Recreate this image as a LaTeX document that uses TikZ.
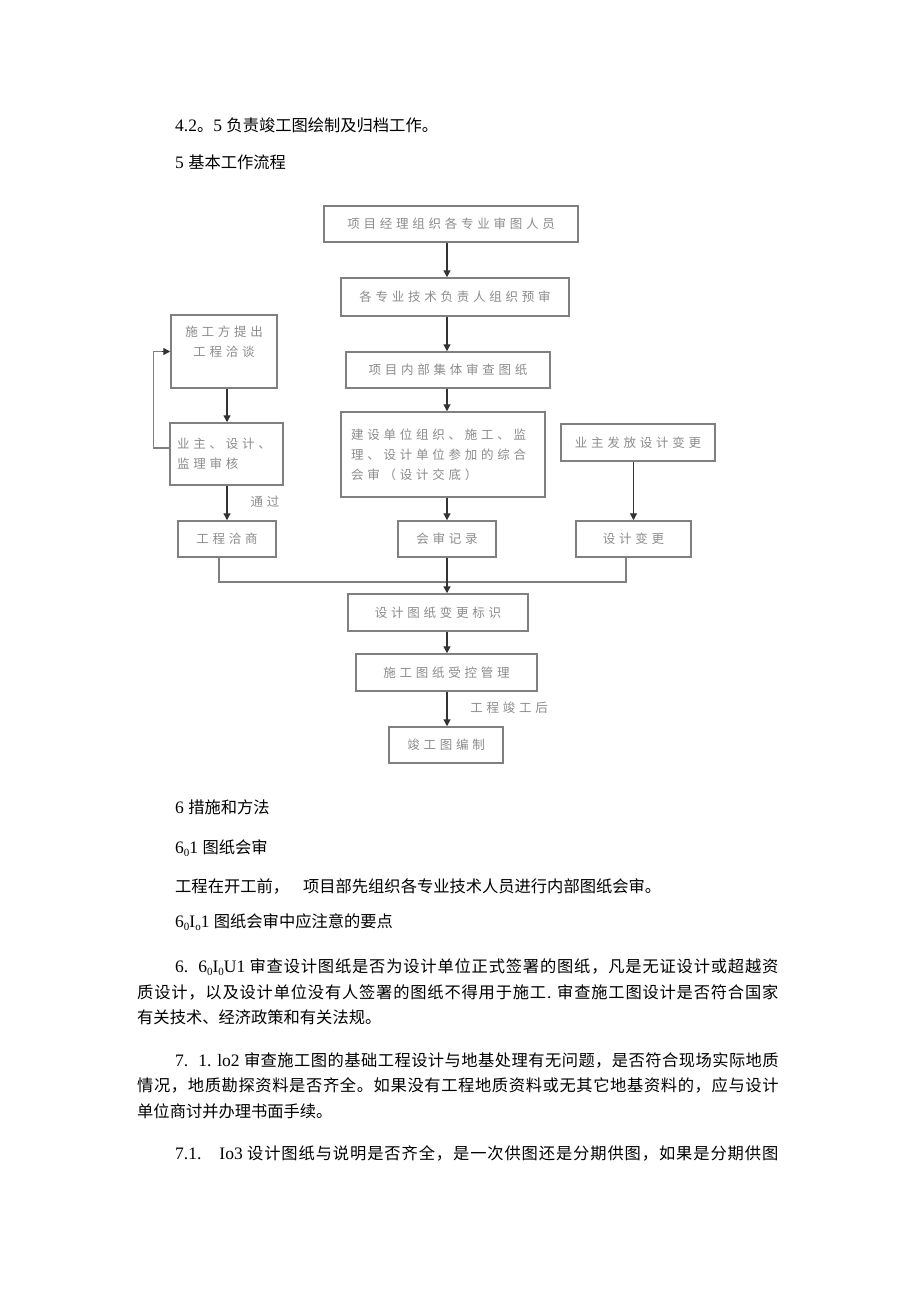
\documentclass[tikz,border=0pt]{standalone}
\usepackage{fontspec}
\setmainfont{Liberation Serif}
\newfontfamily\cjk[Scale=0.93]{Noto Sans CJK SC}
\newfontfamily\flowfont[LetterSpace=30]{Noto Sans CJK SC}
\usetikzlibrary{arrows.meta,calc}
\def\zhsEnd{\zhsEnd}
\def\zhs#1{\zhsA#1\zhsEnd}
\def\zhsA#1{\ifx#1\zhsEnd\else#1\hskip0pt plus 1fil\relax\expandafter\zhsA\fi}
\newcommand\zh[1]{{\cjk #1}}
\newcommand\zj[1]{{\cjk\zhs{#1}}}
\newcommand\sbs[1]{\raisebox{-0.3ex}{\fontsize{11}{11}\selectfont #1}}
\newcommand\jl[2]{\hbox to #1{#2}}
\begin{document}
\begin{tikzpicture}[x=1pt,y=-1pt,
  doc/.style={anchor=west,inner sep=0pt,font=\fontsize{17.5}{21}\selectfont},
  box/.style={draw=black!50,line width=1.5pt,inner sep=0pt,align=center,
    font=\flowfont\fontsize{12.5}{20}\selectfont,text=black!45},
  arr/.style={draw=black!80,line width=1.3pt,-{Triangle[length=7pt,width=7pt]}},
  gline/.style={draw=black!50,line width=1.3pt},
  lbl/.style={inner sep=0pt,font=\flowfont\fontsize{12.5}{20}\selectfont,text=black!45}]
\fill[white] (0,0) rectangle (920,1301);
\useasboundingbox (0,0) rectangle (920,1301);

% document text
\node[doc] (t1) at (175,125) {4.2\zh{。}5 \zh{负责竣工图绘制及归档工作。}};
\node[doc] (t2) at (175,162) {5 \zh{基本工作流程}};
\node[doc] (t3) at (175,807) {6 \zh{措施和方法}};
\node[doc] (t4) at (175,848) {6\sbs{0}1 \zh{图纸会审}};
\node[doc] (t5) at (175,886) {\zh{工程在开工前，}\hspace{14pt}\zh{项目部先组织各专业技术人员进行内部图纸会审。}};
\node[doc] (t6) at (175,922) {6\sbs{0}I\sbs{o}1 \zh{图纸会审中应注意的要点}};

\node[doc] (p1a) at (175,967) {\jl{604pt}{6.\hspace{10pt}6\sbs{0}I\sbs{0}U1 \zj{审查设计图纸是否为设计单位正式签署的图纸，凡是无证设计或超越资}}};
\node[doc] (p1b) at (137,992) {\jl{642pt}{\zj{质设计，以及设计单位没有人签署的图纸不得用于施工}. \zj{审查施工图设计是否符合国家}}};
\node[doc] (p1c) at (137,1017) {\zh{有关技术、经济政策和有关法规。}};

\node[doc] (p2a) at (175,1060) {\jl{604pt}{7.\hspace{10pt}1. lo2 \zj{审查施工图的基础工程设计与地基处理有无问题，是否符合现场实际地质}}};
\node[doc] (p2b) at (137,1085) {\jl{642pt}{\zj{情况，地质勘探资料是否齐全。如果没有工程地质资料或无其它地基资料的，应与设计}}};
\node[doc] (p2c) at (137,1111) {\zh{单位商讨并办理书面手续。}};

\node[doc] (p3a) at (175,1153) {\jl{604pt}{7.1.\hspace{18pt}Io3 \zj{设计图纸与说明是否齐全，是一次供图还是分期供图，如果是分期供图}}};

% flowchart boxes
\node[box,minimum width=254,minimum height=36] (b1) at (451,224) {项目经理组织各专业审图人员};
\node[box,minimum width=228,minimum height=38] (b2) at (455,297) {各专业技术负责人组织预审};
\node[box,minimum width=204,minimum height=36] (b3) at (448,370) {项目内部集体审查图纸};
\node[box,minimum width=106,minimum height=73] (bA) at (224,351.5) {施工方提出\\工程洽谈\\\mbox{}};
\node[box,minimum width=113,minimum height=62,text width=99,align=left] (bB) at (226.5,454) {业主、设计、\\监理审核};
\node[box,minimum width=98,minimum height=36] (bC) at (227,539) {工程洽商};
\node[box,minimum width=204,minimum height=85,text width=184,align=left] (bD) at (443,454.5) {建设单位组织、施工、监\\理、设计单位参加的综合\\会审（设计交底）};
\node[box,minimum width=154,minimum height=37] (bE) at (638,442.5) {业主发放设计变更};
\node[box,minimum width=115,minimum height=36] (bF) at (633.5,539) {设计变更};
\node[box,minimum width=98,minimum height=36] (bG) at (447,539) {会审记录};
\node[box,minimum width=180,minimum height=37] (bH) at (438,612.5) {设计图纸变更标识};
\node[box,minimum width=181,minimum height=37] (bI) at (446.5,672.5) {施工图纸受控管理};
\node[box,minimum width=114,minimum height=36] (bJ) at (446,745) {竣工图编制};

\node[lbl] (l1) at (265,502) {通过};
\node[lbl] (l2) at (509,708) {工程竣工后};
\coordinate (mrg) at (447,582);

% connectors
\draw[arr] (b1.south -| bG) -- (b2.north -| bG);
\draw[arr] (b2.south -| bG) -- (b3.north -| bG);
\draw[arr] (b3.south -| bG) -- (bD.north -| bG);
\draw[arr] (bD.south -| bG) -- (bG.north);
\draw[arr] (bA.south -| bC) -- (bB.north -| bC);
\draw[arr] (bB.south -| bC) -- (bC.north);
\draw[arr] (bE.south -| bF) -- (bF.north);
\draw[gline] ([xshift=-8pt]bC.south) |- (mrg);
\draw[gline] ([xshift=-7.5pt]bF.south) |- (mrg);
\draw[arr] (bG.south) -- (bH.north -| bG);
\draw[arr] (bH.south -| bG) -- (bI.north -| bG);
\draw[arr] (bI.south -| bG) -- (bJ.north -| bG);
\draw[gline] ([yshift=6pt]bB.west) -- ++(-16,0) |- ([xshift=-7pt]bA.west);
\draw[arr] ([xshift=-8pt]bA.west) -- (bA.west);
\end{tikzpicture}
\end{document}
